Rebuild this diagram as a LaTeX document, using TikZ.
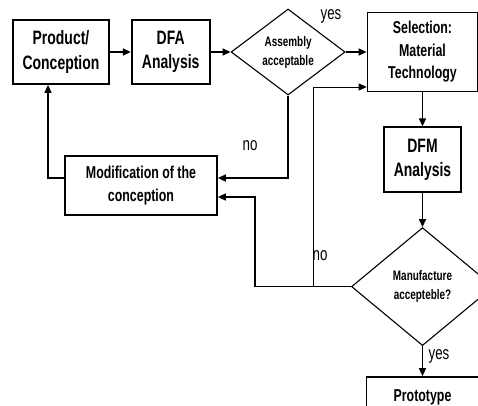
\documentclass[tikz,border=0pt]{standalone}
\usepackage{fontspec}
\setmainfont{Liberation Sans}[FakeStretch=0.72]
\usetikzlibrary{arrows.meta, positioning, shapes.geometric}

\begin{document}
\begin{tikzpicture}[
  x=1pt, y=-1pt,
  node distance=20pt and 21pt,
  box/.style={draw, line width=1.7pt, align=center, inner sep=0pt,
    font=\fontsize{19.4}{24.5}\selectfont\bfseries},
  midbox/.style={box, font=\fontsize{17.2}{22.5}\selectfont\bfseries},
  decide/.style={draw, diamond, line width=1.1pt, align=center, inner sep=0pt,
    font=\fontsize{13.8}{19}\selectfont\bfseries},
  answer/.style={inner sep=0pt, font=\fontsize{18.5}{20}\selectfont},
  arrow/.style={-{Triangle[length=8pt, width=7pt]}, line width=1.5pt},
  thinarrow/.style={arrow, line width=0.8pt}
]
\useasboundingbox (0,0) rectangle (478,405);
\node[box, minimum width=96pt, minimum height=64pt] (prod) at (61,52) {Product/\\Conception};
\node[box, minimum width=78pt, minimum height=64pt, right=21pt of prod] (dfa) {DFA\\Analysis};
\node[decide, minimum width=114pt, minimum height=86pt, right=20pt of dfa] (asm) {Assembly\\acceptable};
\node[midbox, minimum width=110pt, minimum height=79pt, right=21pt of asm] (sel) {Selection:\\Material\\Technology};
\node[box, minimum width=77pt, minimum height=65pt, below=34pt of sel] (dfm) {DFM\\Analysis};
\node[decide, minimum width=142pt, minimum height=118pt, below=34pt of dfm] (man) {Manufacture\\accepteble?};
\node[midbox, minimum width=112pt, minimum height=40pt, below=30pt of man] (proto) {Prototype};
\node[midbox, minimum width=152pt, minimum height=59pt] (mod) at (141,185.5) {Modification of the\\conception};
\coordinate[left=96pt of man.west] (back);
\coordinate[left=38pt of man.west] (split);
% main line
\draw[arrow] (prod) -- (dfa);
\draw[arrow] (dfa) -- (asm);
\draw[arrow] (asm) -- (sel);
\draw[arrow] (sel) -- (dfm);
\draw[arrow] (dfm) -- (man);
\draw[arrow] (man) -- (proto);
% loops back
\draw[arrow] (asm.south) |- ([yshift=7.5pt]mod.east);
\draw[arrow] (man.west) -- (back) |- ([yshift=-11.5pt]mod.east);
\draw[thinarrow] (split) |- ([yshift=-35pt]sel.west);
\draw[arrow] ([yshift=7.5pt]mod.west) -| ([xshift=-13pt]prod.south);
\node[answer] (yesasm) at (331,16) {yes};
\node[answer] (noasm) at (250,146) {no};
\node[answer] (noman) at (320,256) {no};
\node[answer] (yesman) at (439,356) {yes};
\end{tikzpicture}
\end{document}
